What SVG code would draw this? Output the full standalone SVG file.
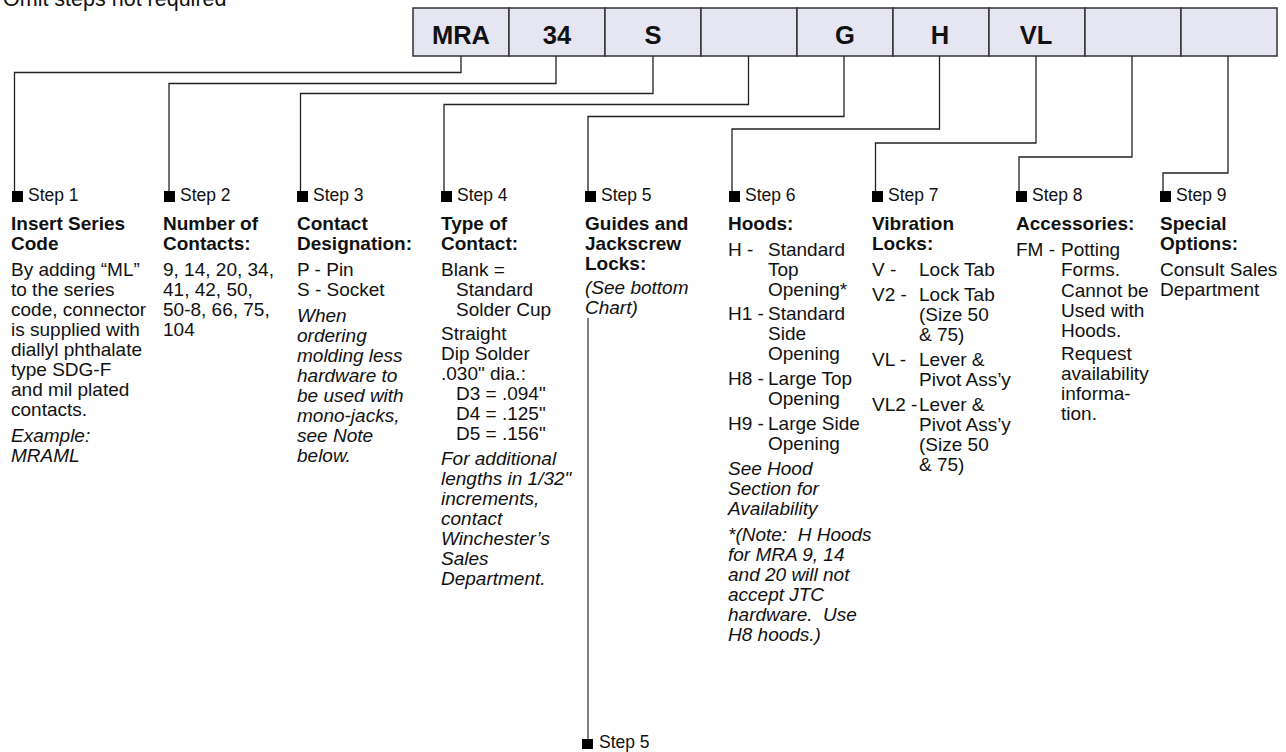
<svg xmlns="http://www.w3.org/2000/svg" width="1286" height="752" viewBox="0 0 1286 752">
<style>
text{font-family:"Liberation Sans",Arial,sans-serif;fill:#111}
.t{font-size:19px}
.b{font-size:19px;font-weight:bold}
.i{font-size:19px;font-style:italic}
.s{font-size:17.5px}
.c{font-size:25.5px;font-weight:bold;text-anchor:middle}
.cell{fill:#e6e6f3;stroke:#333;stroke-width:1.5}
.ln{fill:none;stroke:#222;stroke-width:1.3}
.ln2{fill:none;stroke:#555;stroke-width:1.5}
.mk{fill:#000}
</style>
<text x="3" y="6" style="font-size:21.5px">Omit steps not required</text>

<g id="code-cells">
<g id="cell1"><rect class="cell" x="413" y="8" width="96" height="48"/><text class="c" x="461" y="44">MRA</text></g>
<g id="cell2"><rect class="cell" x="509" y="8" width="96" height="48"/><text class="c" x="557" y="44">34</text></g>
<g id="cell3"><rect class="cell" x="605" y="8" width="96" height="48"/><text class="c" x="653" y="44">S</text></g>
<g id="cell4"><rect class="cell" x="701" y="8" width="96" height="48"/></g>
<g id="cell5"><rect class="cell" x="797" y="8" width="96" height="48"/><text class="c" x="845" y="44">G</text></g>
<g id="cell6"><rect class="cell" x="893" y="8" width="96" height="48"/><text class="c" x="940" y="44">H</text></g>
<g id="cell7"><rect class="cell" x="989" y="8" width="96" height="48"/><text class="c" x="1036" y="44">VL</text></g>
<g id="cell8"><rect class="cell" x="1085" y="8" width="96" height="48"/></g>
<g id="cell9"><rect class="cell" x="1181" y="8" width="96" height="48"/></g>
</g>

<g id="connectors">
<path class="ln" d="M461,56V72.5H14.5V196"/>
<path class="ln" d="M556,56V83.5H169V196"/>
<path class="ln" d="M653,56V93.5H300.5V196"/>
<path class="ln" d="M748.5,56V104.5H444V196"/>
<path class="ln" d="M844,56V116.5H588V196"/>
<path class="ln" d="M939.5,56V129H732V196"/>
<path class="ln" d="M1036,56V143H875.5V196"/>
<path class="ln" d="M1132,56V157H1019V196"/>
<path class="ln" d="M1228,56V173H1163V196"/>
<path class="ln2" d="M588,318V744"/>
</g>

<g id="step1">
<rect class="mk" x="12" y="191" width="11" height="11"/>
<text class="s" x="28" y="201">Step 1</text>
<text class="b" x="11"><tspan x="11" y="230">Insert Series</tspan><tspan x="11" y="250">Code</tspan></text>
<text class="t"><tspan x="11" y="276">By adding “ML”</tspan><tspan x="11" y="296">to the series</tspan><tspan x="11" y="316">code, connector</tspan><tspan x="11" y="336">is supplied with</tspan><tspan x="11" y="356">diallyl phthalate</tspan><tspan x="11" y="376">type SDG-F</tspan><tspan x="11" y="396">and mil plated</tspan><tspan x="11" y="416">contacts.</tspan></text>
<text class="i"><tspan x="11" y="442">Example:</tspan><tspan x="11" y="462">MRAML</tspan></text>
</g>

<g id="step2">
<rect class="mk" x="164" y="191" width="11" height="11"/>
<text class="s" x="180" y="201">Step 2</text>
<text class="b"><tspan x="163" y="230">Number of</tspan><tspan x="163" y="250">Contacts:</tspan></text>
<text class="t"><tspan x="163" y="276">9, 14, 20, 34,</tspan><tspan x="163" y="296">41, 42, 50,</tspan><tspan x="163" y="316">50-8, 66, 75,</tspan><tspan x="163" y="336">104</tspan></text>
</g>

<g id="step3">
<rect class="mk" x="297" y="191" width="11" height="11"/>
<text class="s" x="313" y="201">Step 3</text>
<text class="b"><tspan x="297" y="230">Contact</tspan><tspan x="297" y="250">Designation:</tspan></text>
<text class="t"><tspan x="297" y="276">P - Pin</tspan><tspan x="297" y="296">S - Socket</tspan></text>
<text class="i"><tspan x="297" y="322">When</tspan><tspan x="297" y="342">ordering</tspan><tspan x="297" y="362">molding less</tspan><tspan x="297" y="382">hardware to</tspan><tspan x="297" y="402">be used with</tspan><tspan x="297" y="422">mono-jacks,</tspan><tspan x="297" y="442">see Note</tspan><tspan x="297" y="462">below.</tspan></text>
</g>

<g id="step4">
<rect class="mk" x="441" y="191" width="11" height="11"/>
<text class="s" x="457" y="201">Step 4</text>
<text class="b"><tspan x="441" y="230">Type of</tspan><tspan x="441" y="250">Contact:</tspan></text>
<text class="t"><tspan x="441" y="276">Blank =</tspan><tspan x="456" y="296">Standard</tspan><tspan x="456" y="316">Solder Cup</tspan><tspan x="441" y="340">Straight</tspan><tspan x="441" y="360">Dip Solder</tspan><tspan x="441" y="380">.030" dia.:</tspan><tspan x="456" y="400">D3 = .094"</tspan><tspan x="456" y="420">D4 = .125"</tspan><tspan x="456" y="440">D5 = .156"</tspan></text>
<text class="i"><tspan x="441" y="465">For additional</tspan><tspan x="441" y="485">lengths in 1/32"</tspan><tspan x="441" y="505">increments,</tspan><tspan x="441" y="525">contact</tspan><tspan x="441" y="545">Winchester’s</tspan><tspan x="441" y="565">Sales</tspan><tspan x="441" y="585">Department.</tspan></text>
</g>

<g id="step5">
<rect class="mk" x="585" y="191" width="11" height="11"/>
<text class="s" x="601" y="201">Step 5</text>
<text class="b"><tspan x="585" y="230">Guides and</tspan><tspan x="585" y="250">Jackscrew</tspan><tspan x="585" y="270">Locks:</tspan></text>
<text class="i"><tspan x="585" y="294">(See bottom</tspan><tspan x="585" y="314">Chart)</tspan></text>
</g>

<g id="step5-bottom">
<rect class="mk" x="582" y="739" width="11" height="10"/>
<text class="s" x="599" y="748">Step 5</text>
</g>

<g id="step6">
<rect class="mk" x="729" y="191" width="11" height="11"/>
<text class="s" x="745" y="201">Step 6</text>
<text class="b" x="728" y="230">Hoods:</text>
<text class="t"><tspan x="728" y="256">H -</tspan><tspan x="728" y="320">H1 -</tspan><tspan x="728" y="385">H8 -</tspan><tspan x="728" y="430">H9 -</tspan></text>
<text class="t"><tspan x="768" y="256">Standard</tspan><tspan x="768" y="276">Top</tspan><tspan x="768" y="296">Opening*</tspan><tspan x="768" y="320">Standard</tspan><tspan x="768" y="340">Side</tspan><tspan x="768" y="360">Opening</tspan><tspan x="768" y="385">Large Top</tspan><tspan x="768" y="405">Opening</tspan><tspan x="768" y="430">Large Side</tspan><tspan x="768" y="450">Opening</tspan></text>
<text class="i" xml:space="preserve"><tspan x="728" y="475">See Hood</tspan><tspan x="728" y="495">Section for</tspan><tspan x="728" y="515">Availability</tspan><tspan x="728" y="541">*(Note:  H Hoods</tspan><tspan x="728" y="561">for MRA 9, 14</tspan><tspan x="728" y="581">and 20 will not</tspan><tspan x="728" y="601">accept JTC</tspan><tspan x="728" y="621">hardware.  Use</tspan><tspan x="728" y="641">H8 hoods.)</tspan></text>
</g>

<g id="step7">
<rect class="mk" x="872" y="191" width="11" height="11"/>
<text class="s" x="888" y="201">Step 7</text>
<text class="b"><tspan x="872" y="230">Vibration</tspan><tspan x="872" y="250">Locks:</tspan></text>
<text class="t"><tspan x="872" y="276">V -</tspan><tspan x="872" y="301">V2 -</tspan><tspan x="872" y="366">VL -</tspan><tspan x="872" y="411">VL2 -</tspan></text>
<text class="t"><tspan x="919" y="276">Lock Tab</tspan><tspan x="919" y="301">Lock Tab</tspan><tspan x="919" y="321">(Size 50</tspan><tspan x="919" y="341">&amp; 75)</tspan><tspan x="919" y="366">Lever &amp;</tspan><tspan x="919" y="386">Pivot Ass’y</tspan><tspan x="919" y="411">Lever &amp;</tspan><tspan x="919" y="431">Pivot Ass’y</tspan><tspan x="919" y="451">(Size 50</tspan><tspan x="919" y="471">&amp; 75)</tspan></text>
</g>

<g id="step8">
<rect class="mk" x="1016" y="191" width="11" height="11"/>
<text class="s" x="1032" y="201">Step 8</text>
<text class="b" x="1016" y="230">Accessories:</text>
<text class="t" x="1016" y="256">FM -</text>
<text class="t"><tspan x="1061" y="256">Potting</tspan><tspan x="1061" y="276">Forms.</tspan><tspan x="1061" y="297">Cannot be</tspan><tspan x="1061" y="317">Used with</tspan><tspan x="1061" y="337">Hoods.</tspan><tspan x="1061" y="360">Request</tspan><tspan x="1061" y="380">availability</tspan><tspan x="1061" y="400">informa-</tspan><tspan x="1061" y="420">tion.</tspan></text>
</g>

<g id="step9">
<rect class="mk" x="1160" y="191" width="11" height="11"/>
<text class="s" x="1176" y="201">Step 9</text>
<text class="b"><tspan x="1160" y="230">Special</tspan><tspan x="1160" y="250">Options:</tspan></text>
<text class="t"><tspan x="1160" y="276">Consult Sales</tspan><tspan x="1160" y="296">Department</tspan></text>
</g>
</svg>
